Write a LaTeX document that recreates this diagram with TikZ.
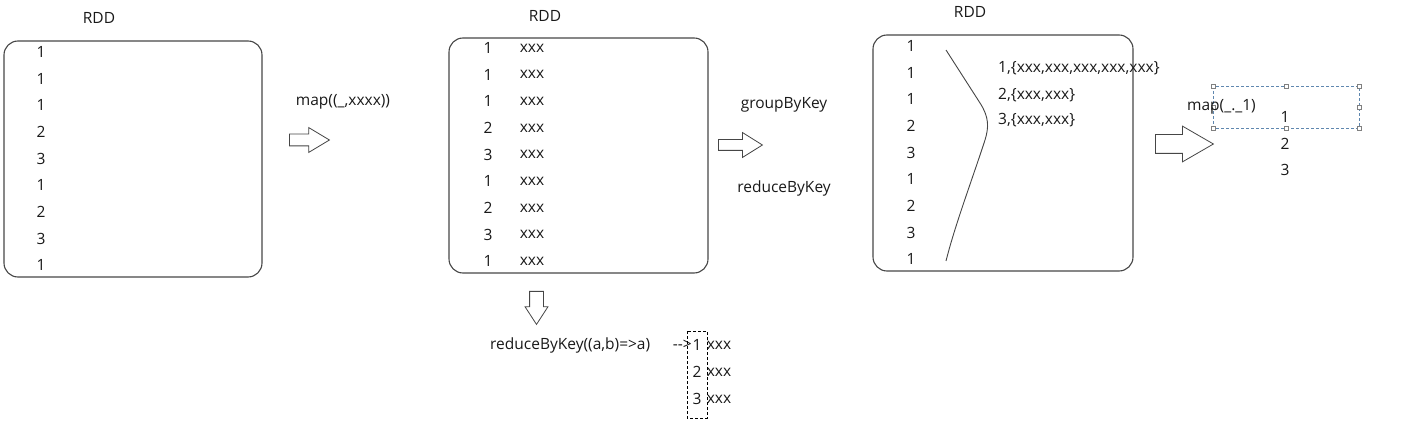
\documentclass[tikz,border=0pt]{standalone}
\usepackage{fontspec}
\setmainfont{Open Sans}
\usepackage{tikz}
\usetikzlibrary{shapes.arrows, positioning}
\definecolor{linegray}{RGB}{70,70,70}
\definecolor{selblue}{RGB}{95,135,175}
\definecolor{textgray}{RGB}{25,25,25}

\begin{document}
\begin{tikzpicture}[
    x=1pt, y=-1pt,
    font=\fontsize{15.5}{18}\selectfont,
    rdd/.style={rectangle, rounded corners=14pt, draw=linegray, line width=1.1pt, inner sep=0pt},
    cell/.style={inner sep=0pt, minimum height=26.25pt, text=textgray},
    label/.style={inner sep=1pt, text=textgray},
    blockarrow/.style={single arrow, draw=linegray, line width=0.8pt, fill=white, single arrow head indent=0pt, anchor=tail},
    selbox/.style={dash pattern=on 3pt off 2pt, line width=0.8pt},
    handle/.style={rectangle, draw=gray, fill=white, line width=0.5pt, inner sep=0pt, minimum size=4pt}
]
\useasboundingbox (0,0) rectangle (1416,430);

% first RDD
\node[rdd, minimum width=258pt, minimum height=236pt] (box1) at (133,159) {};
\node[label] (rdd1) at (99,18) {RDD};
\node[cell] (a1) at (41,52) {1};
\node[cell, below=0pt of a1] (a2) {1};
\node[cell, below=0pt of a2] (a3) {1};
\node[cell, below=0pt of a3] (a4) {2};
\node[cell, below=0pt of a4] (a5) {3};
\node[cell, below=0pt of a5] (a6) {1};
\node[cell, below=0pt of a6] (a7) {2};
\node[cell, below=0pt of a7] (a8) {3};
\node[cell, below=0pt of a8] (a9) {1};

% map to pairs
\node[label] (map1) at (343,102) {map((\_,xxxx))};
\node[blockarrow, minimum height=40pt, inner sep=5.5pt, single arrow head extend=6.5pt, single arrow tip angle=62] (arr1) at (289,140) {};

% second RDD
\node[rdd, minimum width=259pt, minimum height=235pt] (box2) at (578.5,155.5) {};
\node[label] (rdd2) at (545,16) {RDD};
\node[cell] (b1) at (488,48) {1};
\node[cell, below=0pt of b1] (b2) {1};
\node[cell, below=0pt of b2] (b3) {1};
\node[cell, below=0pt of b3] (b4) {2};
\node[cell, below=0pt of b4] (b5) {3};
\node[cell, below=0pt of b5] (b6) {1};
\node[cell, below=0pt of b6] (b7) {2};
\node[cell, below=0pt of b7] (b8) {3};
\node[cell, below=0pt of b8] (b9) {1};
\node[cell, right=27pt of b1] (bx1) {xxx};
\node[cell, right=27pt of b2] (bx2) {xxx};
\node[cell, right=27pt of b3] (bx3) {xxx};
\node[cell, right=27pt of b4] (bx4) {xxx};
\node[cell, right=27pt of b5] (bx5) {xxx};
\node[cell, right=27pt of b6] (bx6) {xxx};
\node[cell, right=27pt of b7] (bx7) {xxx};
\node[cell, right=27pt of b8] (bx8) {xxx};
\node[cell, right=27pt of b9] (bx9) {xxx};

% groupByKey / reduceByKey
\node[label] (group) at (784,105) {groupByKey};
\node[label] (reduce) at (784,188) {reduceByKey};
\node[blockarrow, minimum height=44pt, inner sep=5pt, single arrow head extend=7pt, single arrow tip angle=64] (arr2) at (718,145) {};

% reduceByKey below
\node[blockarrow, shape border rotate=270, minimum height=33pt, inner sep=6.5pt, single arrow head extend=4.5pt, single arrow tip angle=66] (arr4) at (536.5,291) {};
\node[label, anchor=west] (rbk) at (489,345) {reduceByKey((a,b)=>a)};
\node[label, anchor=east, inner sep=0pt] (dash) at (692,345) {-{}-{}>};
\node[cell] (c1) at (697,345) {1};
\node[cell, below=0pt of c1, yshift=-0.5pt] (c2) {2};
\node[cell, below=0pt of c2, yshift=-0.5pt] (c3) {3};
\node[cell, right=5pt of c1] (cx1) {xxx};
\node[cell, right=5pt of c2] (cx2) {xxx};
\node[cell, right=5pt of c3] (cx3) {xxx};
\draw[selbox, draw=black] (687,331) rectangle (707,418);

% third RDD
\node[rdd, minimum width=260pt, minimum height=236pt] (box3) at (1003,153) {};
\node[label] (rdd3) at (970,12) {RDD};
\node[cell] (d1) at (911,46) {1};
\node[cell, below=0pt of d1] (d2) {1};
\node[cell, below=0pt of d2] (d3) {1};
\node[cell, below=0pt of d3] (d4) {2};
\node[cell, below=0pt of d4] (d5) {3};
\node[cell, below=0pt of d5] (d6) {1};
\node[cell, below=0pt of d6] (d7) {2};
\node[cell, below=0pt of d7] (d8) {3};
\node[cell, below=0pt of d8] (d9) {1};
\draw[linegray, line width=0.9pt] (946,50) -- (980,103) .. controls (989,117) and (989,127) .. (985,140) .. controls (972,180) and (955,225) .. (946,261);
\node[label, anchor=west, inner sep=0pt] (g1) at (998,68) {1,\{xxx,xxx,xxx,xxx,xxx\}};
\node[label, anchor=west, inner sep=0pt] (g2) at (998,95) {2,\{xxx,xxx\}};
\node[label, anchor=west, inner sep=0pt] (g3) at (998,120) {3,\{xxx,xxx\}};

% map keys
\node[blockarrow, minimum height=58pt, inner sep=9pt, single arrow head extend=8.5pt, single arrow tip angle=60] (arr3) at (1155,144) {};
\draw[selbox, draw=selblue] (1213,86) rectangle (1359,128);
\foreach \hx/\hy in {1213/86, 1286/86, 1359/86, 1359/107, 1359/128, 1286/128, 1213/128, 1213/107}
  \node[handle] at (\hx,\hy) {};
\node[label, anchor=west, inner sep=0pt] (map2) at (1187,107) {map(\_.\_1)};
\node[cell] (e1) at (1285,117) {1};
\node[cell, below=0pt of e1] (e2) {2};
\node[cell, below=0pt of e2] (e3) {3};

\end{tikzpicture}
\end{document}
